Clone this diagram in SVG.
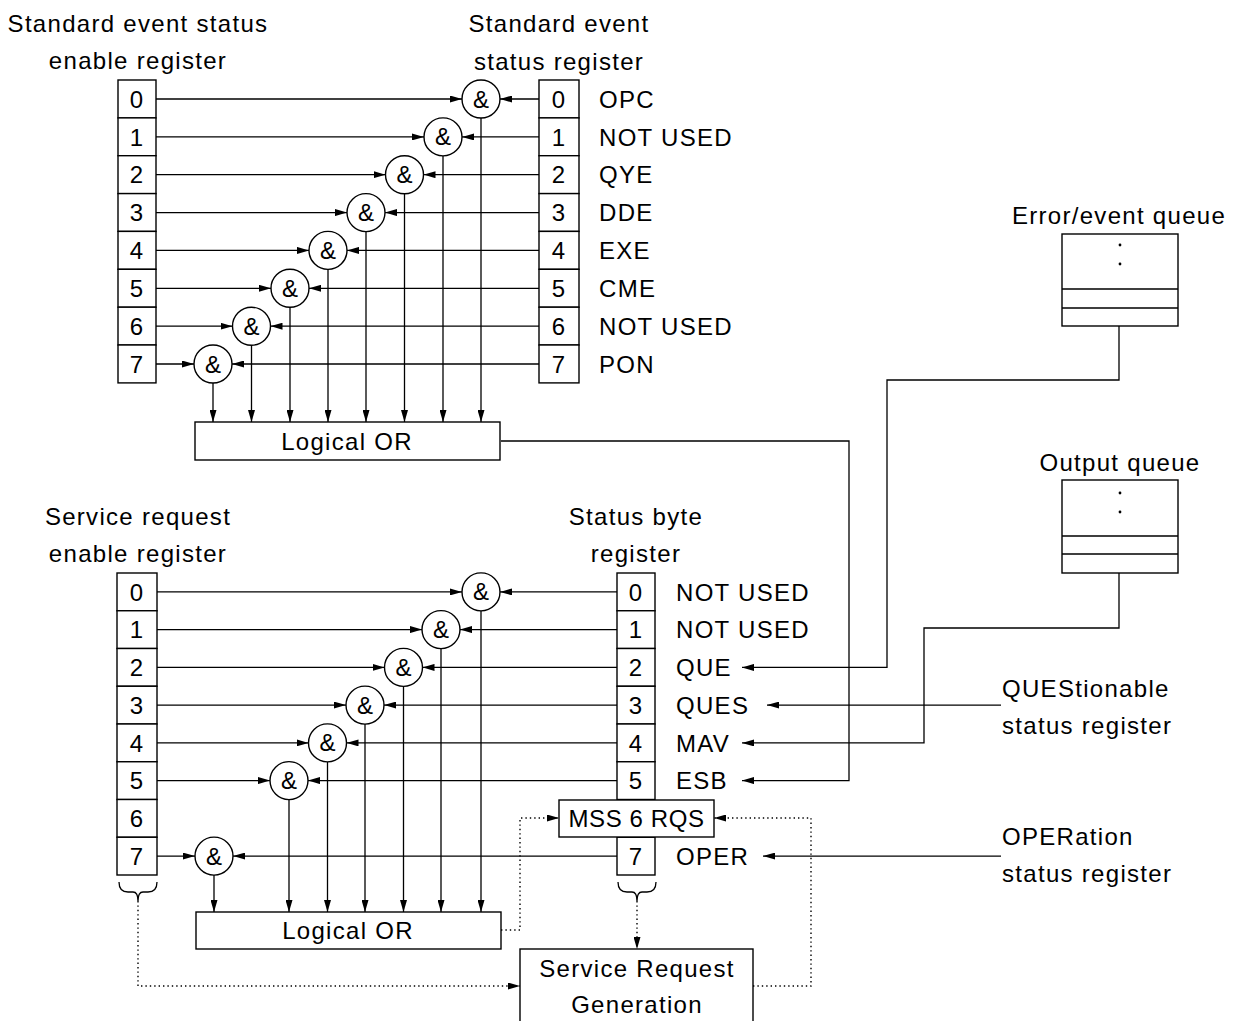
<svg xmlns="http://www.w3.org/2000/svg" width="1236" height="1021" viewBox="0 0 1236 1021">
<style>
text{font-family:"Liberation Sans",Arial,sans-serif;font-size:24px;fill:#000;letter-spacing:1.3px}
.c{text-anchor:middle}
.amp{font-size:24px;letter-spacing:0}
.box{fill:#fff;stroke:#000;stroke-width:1.4}
.ln{fill:none;stroke:#000;stroke-width:1.3}
.dot{fill:none;stroke:#000;stroke-width:1.4;stroke-dasharray:1.4 3}
</style>
<defs>
<marker id="ah" viewBox="0 0 12 7" refX="12" refY="3.5" markerWidth="12" markerHeight="7" markerUnits="userSpaceOnUse" orient="auto"><path d="M0,0 L12,3.5 L0,7 z" fill="#000"/></marker>
</defs>
<rect width="1236" height="1021" fill="#fff"/>

<g id="connectors">
<path class="ln" marker-end="url(#ah)" d="M156,99 H462"/>
<path class="ln" marker-end="url(#ah)" d="M156,136.9 H424"/>
<path class="ln" marker-end="url(#ah)" d="M156,174.7 H385.5"/>
<path class="ln" marker-end="url(#ah)" d="M156,212.6 H347"/>
<path class="ln" marker-end="url(#ah)" d="M156,250.4 H309"/>
<path class="ln" marker-end="url(#ah)" d="M156,288.3 H271"/>
<path class="ln" marker-end="url(#ah)" d="M156,326.2 H232.5"/>
<path class="ln" marker-end="url(#ah)" d="M156,364 H194"/>
<path class="ln" marker-end="url(#ah)" d="M539,99 H500"/>
<path class="ln" marker-end="url(#ah)" d="M539,136.9 H462"/>
<path class="ln" marker-end="url(#ah)" d="M539,174.7 H423.5"/>
<path class="ln" marker-end="url(#ah)" d="M539,212.6 H385"/>
<path class="ln" marker-end="url(#ah)" d="M539,250.4 H347"/>
<path class="ln" marker-end="url(#ah)" d="M539,288.3 H309"/>
<path class="ln" marker-end="url(#ah)" d="M539,326.2 H270.5"/>
<path class="ln" marker-end="url(#ah)" d="M539,364 H232"/>
<path class="ln" marker-end="url(#ah)" d="M481,118 V422"/>
<path class="ln" marker-end="url(#ah)" d="M443,155.9 V422"/>
<path class="ln" marker-end="url(#ah)" d="M404.5,193.7 V422"/>
<path class="ln" marker-end="url(#ah)" d="M366,231.6 V422"/>
<path class="ln" marker-end="url(#ah)" d="M328,269.4 V422"/>
<path class="ln" marker-end="url(#ah)" d="M290,307.3 V422"/>
<path class="ln" marker-end="url(#ah)" d="M251.5,345.2 V422"/>
<path class="ln" marker-end="url(#ah)" d="M213,383 V422"/>
<path class="ln" marker-end="url(#ah)" d="M157,591.9 H462"/>
<path class="ln" marker-end="url(#ah)" d="M157,629.6 H422"/>
<path class="ln" marker-end="url(#ah)" d="M157,667.4 H384.5"/>
<path class="ln" marker-end="url(#ah)" d="M157,705.1 H346"/>
<path class="ln" marker-end="url(#ah)" d="M157,742.9 H308.5"/>
<path class="ln" marker-end="url(#ah)" d="M157,780.6 H270"/>
<path class="ln" marker-end="url(#ah)" d="M157,856.1 H195"/>
<path class="ln" marker-end="url(#ah)" d="M617,591.9 H500"/>
<path class="ln" marker-end="url(#ah)" d="M617,629.6 H460"/>
<path class="ln" marker-end="url(#ah)" d="M617,667.4 H422.5"/>
<path class="ln" marker-end="url(#ah)" d="M617,705.1 H384"/>
<path class="ln" marker-end="url(#ah)" d="M617,742.9 H346.5"/>
<path class="ln" marker-end="url(#ah)" d="M617,780.6 H308"/>
<path class="ln" marker-end="url(#ah)" d="M617,856.1 H233"/>
<path class="ln" marker-end="url(#ah)" d="M481,610.9 V912"/>
<path class="ln" marker-end="url(#ah)" d="M441,648.6 V912"/>
<path class="ln" marker-end="url(#ah)" d="M403.5,686.4 V912"/>
<path class="ln" marker-end="url(#ah)" d="M365,724.1 V912"/>
<path class="ln" marker-end="url(#ah)" d="M327.5,761.9 V912"/>
<path class="ln" marker-end="url(#ah)" d="M289,799.6 V912"/>
<path class="ln" marker-end="url(#ah)" d="M214,875.1 V912"/>
<path class="ln" marker-end="url(#ah)" d="M1119,326 V380 H887 V667.4 H742"/>
<path class="ln" marker-end="url(#ah)" d="M1001,705.1 H767"/>
<path class="ln" marker-end="url(#ah)" d="M1119,573 V628 H924 V742.9 H742"/>
<path class="ln" marker-end="url(#ah)" d="M501,441 H849 V780.6 H742"/>
<path class="ln" marker-end="url(#ah)" d="M1001,856.1 H763"/>
<path class="ln" d="M119,882 Q119,892 128,892 H133 Q138,892 138,901 Q138,892 143,892 H148 Q157,892 157,882"/>
<path class="ln" d="M618,882 Q618,892 627,892 H632 Q637,892 637,901 Q637,892 642,892 H647 Q656,892 656,882"/>
<path class="dot" marker-end="url(#ah)" d="M138,901 V986 H520"/>
<path class="dot" marker-end="url(#ah)" d="M637,901 V949"/>
<path class="dot" marker-end="url(#ah)" d="M501,930 H520 V818 H559"/>
<path class="dot" marker-end="url(#ah)" d="M753,986 H811 V818 H714"/>
</g>

<g id="ses-enable-register">
<rect class="box" x="118" y="80" width="38" height="37.9"/>
<rect class="box" x="118" y="117.9" width="38" height="37.8"/>
<rect class="box" x="118" y="155.7" width="38" height="37.9"/>
<rect class="box" x="118" y="193.6" width="38" height="37.8"/>
<rect class="box" x="118" y="231.4" width="38" height="37.9"/>
<rect class="box" x="118" y="269.3" width="38" height="37.9"/>
<rect class="box" x="118" y="307.2" width="38" height="37.8"/>
<rect class="box" x="118" y="345" width="38" height="37.9"/>
<text class="c" x="137" y="107.6">0</text>
<text class="c" x="137" y="145.5">1</text>
<text class="c" x="137" y="183.3">2</text>
<text class="c" x="137" y="221.2">3</text>
<text class="c" x="137" y="259">4</text>
<text class="c" x="137" y="296.9">5</text>
<text class="c" x="137" y="334.8">6</text>
<text class="c" x="137" y="372.6">7</text>
<text class="c" x="138" y="32">Standard event status</text>
<text class="c" x="138" y="69">enable register</text>
</g>

<g id="ses-register">
<rect class="box" x="539" y="80" width="40" height="37.9"/>
<rect class="box" x="539" y="117.9" width="40" height="37.8"/>
<rect class="box" x="539" y="155.7" width="40" height="37.9"/>
<rect class="box" x="539" y="193.6" width="40" height="37.8"/>
<rect class="box" x="539" y="231.4" width="40" height="37.9"/>
<rect class="box" x="539" y="269.3" width="40" height="37.9"/>
<rect class="box" x="539" y="307.2" width="40" height="37.8"/>
<rect class="box" x="539" y="345" width="40" height="37.9"/>
<text class="c" x="559" y="107.6">0</text>
<text class="c" x="559" y="145.5">1</text>
<text class="c" x="559" y="183.3">2</text>
<text class="c" x="559" y="221.2">3</text>
<text class="c" x="559" y="259">4</text>
<text class="c" x="559" y="296.9">5</text>
<text class="c" x="559" y="334.8">6</text>
<text class="c" x="559" y="372.6">7</text>
<text x="599" y="107.6">OPC</text>
<text x="599" y="145.5">NOT USED</text>
<text x="599" y="183.3">QYE</text>
<text x="599" y="221.2">DDE</text>
<text x="599" y="259">EXE</text>
<text x="599" y="296.9">CME</text>
<text x="599" y="334.8">NOT USED</text>
<text x="599" y="372.6">PON</text>
<text class="c" x="559" y="32">Standard event</text>
<text class="c" x="559" y="70">status register</text>
</g>

<g id="top-and-gates">
<circle class="box" cx="481" cy="99" r="19"/><text class="c amp" x="481" y="107.5">&amp;</text>
<circle class="box" cx="443" cy="136.9" r="19"/><text class="c amp" x="443" y="145.4">&amp;</text>
<circle class="box" cx="404.5" cy="174.7" r="19"/><text class="c amp" x="404.5" y="183.2">&amp;</text>
<circle class="box" cx="366" cy="212.6" r="19"/><text class="c amp" x="366" y="221.1">&amp;</text>
<circle class="box" cx="328" cy="250.4" r="19"/><text class="c amp" x="328" y="258.9">&amp;</text>
<circle class="box" cx="290" cy="288.3" r="19"/><text class="c amp" x="290" y="296.8">&amp;</text>
<circle class="box" cx="251.5" cy="326.2" r="19"/><text class="c amp" x="251.5" y="334.7">&amp;</text>
<circle class="box" cx="213" cy="364" r="19"/><text class="c amp" x="213" y="372.5">&amp;</text>
</g>

<g id="top-logical-or">
<rect class="box" x="195" y="422" width="305" height="38"/>
<text class="c" x="347" y="449.5">Logical OR</text>
</g>

<g id="error-event-queue">
<rect class="box" x="1062" y="234" width="116" height="92"/>
<path class="ln" d="M1062,289 H1178 M1062,308 H1178"/>
<circle cx="1120" cy="245" r="1.4" fill="#000"/>
<circle cx="1120" cy="264" r="1.4" fill="#000"/>
<text class="c" x="1119" y="224">Error/event queue</text>
</g>

<g id="output-queue">
<rect class="box" x="1062" y="480" width="116" height="93"/>
<path class="ln" d="M1062,536 H1178 M1062,554 H1178"/>
<circle cx="1120" cy="493" r="1.4" fill="#000"/>
<circle cx="1120" cy="512" r="1.4" fill="#000"/>
<text class="c" x="1120" y="471">Output queue</text>
</g>

<g id="sr-enable-register">
<rect class="box" x="117" y="573" width="40" height="37.75"/>
<rect class="box" x="117" y="610.75" width="40" height="37.75"/>
<rect class="box" x="117" y="648.5" width="40" height="37.75"/>
<rect class="box" x="117" y="686.25" width="40" height="37.75"/>
<rect class="box" x="117" y="724" width="40" height="37.75"/>
<rect class="box" x="117" y="761.75" width="40" height="37.75"/>
<rect class="box" x="117" y="799.5" width="40" height="37.75"/>
<rect class="box" x="117" y="837.25" width="40" height="37.75"/>
<text class="c" x="137" y="600.5">0</text>
<text class="c" x="137" y="638.2">1</text>
<text class="c" x="137" y="676">2</text>
<text class="c" x="137" y="713.7">3</text>
<text class="c" x="137" y="751.5">4</text>
<text class="c" x="137" y="789.2">5</text>
<text class="c" x="137" y="827">6</text>
<text class="c" x="137" y="864.7">7</text>
<text class="c" x="138" y="525">Service request</text>
<text class="c" x="138" y="562">enable register</text>
</g>

<g id="status-byte-register">
<rect class="box" x="617" y="573" width="38" height="37.75"/>
<rect class="box" x="617" y="610.75" width="38" height="37.75"/>
<rect class="box" x="617" y="648.5" width="38" height="37.75"/>
<rect class="box" x="617" y="686.25" width="38" height="37.75"/>
<rect class="box" x="617" y="724" width="38" height="37.75"/>
<rect class="box" x="617" y="761.75" width="38" height="37.75"/>
<rect class="box" x="617" y="837.25" width="38" height="37.75"/>
<text class="c" x="636" y="600.5">0</text>
<text class="c" x="636" y="638.2">1</text>
<text class="c" x="636" y="676">2</text>
<text class="c" x="636" y="713.7">3</text>
<text class="c" x="636" y="751.5">4</text>
<text class="c" x="636" y="789.2">5</text>
<text class="c" x="636" y="864.7">7</text>
<text x="676" y="600.5">NOT USED</text>
<text x="676" y="638.2">NOT USED</text>
<text x="676" y="676">QUE</text>
<text x="676" y="713.7">QUES</text>
<text x="676" y="751.5">MAV</text>
<text x="676" y="789.2">ESB</text>
<text x="676" y="864.7">OPER</text>
<text class="c" x="636" y="525">Status byte</text>
<text class="c" x="636" y="562">register</text>
</g>

<g id="mss-rqs">
<rect class="box" x="559" y="800" width="155" height="37"/>
<text class="c" x="636.5" y="827" style="letter-spacing:0.6px">MSS 6 RQS</text>
</g>

<g id="bottom-and-gates">
<circle class="box" cx="481" cy="591.9" r="19"/><text class="c amp" x="481" y="600.4">&amp;</text>
<circle class="box" cx="441" cy="629.6" r="19"/><text class="c amp" x="441" y="638.1">&amp;</text>
<circle class="box" cx="403.5" cy="667.4" r="19"/><text class="c amp" x="403.5" y="675.9">&amp;</text>
<circle class="box" cx="365" cy="705.1" r="19"/><text class="c amp" x="365" y="713.6">&amp;</text>
<circle class="box" cx="327.5" cy="742.9" r="19"/><text class="c amp" x="327.5" y="751.4">&amp;</text>
<circle class="box" cx="289" cy="780.6" r="19"/><text class="c amp" x="289" y="789.1">&amp;</text>
<circle class="box" cx="214" cy="856.1" r="19"/><text class="c amp" x="214" y="864.6">&amp;</text>
</g>

<g id="bottom-logical-or">
<rect class="box" x="196" y="912" width="305" height="37"/>
<text class="c" x="348" y="939">Logical OR</text>
</g>

<g id="service-request-generation">
<rect class="box" x="520" y="949" width="233" height="80"/>
<text class="c" x="637" y="976.5">Service Request</text>
<text class="c" x="637" y="1013">Generation</text>
</g>

<g id="questionable-register">
<text x="1002" y="697">QUEStionable</text>
<text x="1002" y="734">status register</text>
</g>

<g id="operation-register">
<text x="1002" y="845">OPERation</text>
<text x="1002" y="882">status register</text>
</g>
</svg>
